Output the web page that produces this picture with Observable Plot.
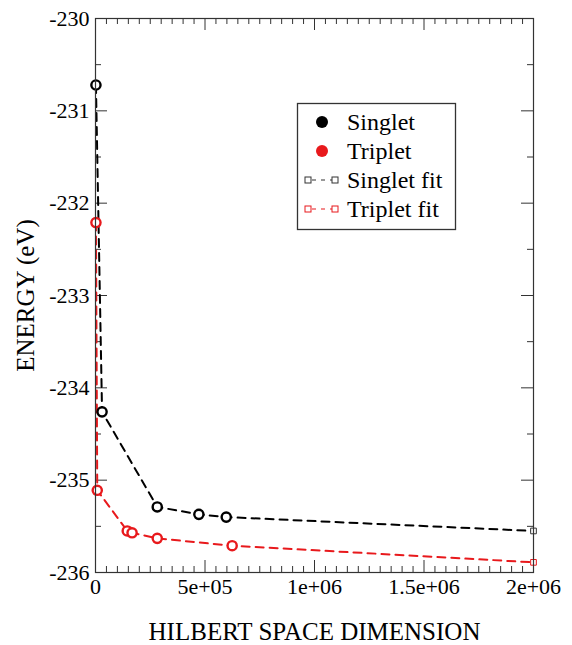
<!DOCTYPE html>
<html>
<head>
<meta charset="utf-8">
<script src="https://cdn.jsdelivr.net/npm/d3@7"></script>
<script src="https://cdn.jsdelivr.net/npm/@observablehq/plot@0.6"></script>
<style>
  html, body { margin: 0; padding: 0; background: #fff; overflow: hidden; }
  #wrap { position: relative; width: 572px; height: 645px; }
  #legend { position: absolute; left: 0; top: 0; }
  #wrap svg, #wrap svg text { font-family: "Liberation Serif", "Times New Roman", Times, serif !important; }
</style>
</head>
<body>
<div id="wrap"></div>
<script>
// ---- data ----
const singletX = [2000, 30000, 282000, 472000, 597000];
const singletE = [-230.72, -234.26, -235.29, -235.37, -235.40];
const tripletX = [2000, 8000, 145000, 167000, 282000, 624000];
const tripletE = [-232.21, -235.11, -235.55, -235.57, -235.63, -235.71];
const singletFitX = [2000, 30000, 282000, 472000, 597000, 2000000];
const singletFitE = [-230.72, -234.26, -235.29, -235.37, -235.40, -235.55];
const tripletFitX = [2000, 8000, 145000, 167000, 282000, 624000, 2000000];
const tripletFitE = [-232.21, -235.11, -235.55, -235.57, -235.63, -235.71, -235.89];
const xTicks = [0, 500000, 1000000, 1500000, 2000000];
const xTickLabels = ["0", "5e+05", "1e+06", "1.5e+06", "2e+06"];
const yTicks = [-236, -235, -234, -233, -232, -231, -230];
const yTickLabels = ["-236", "-235", "-234", "-233", "-232", "-231", "-230"];
const xMinor = d3.range(0, 2000001, 50000).filter(v => v % 500000 !== 0);
const yMinor = [-235.5, -234.5, -233.5, -232.5, -231.5, -230.5];
const legendLabels = ["Singlet", "Triplet", "Singlet fit", "Triplet fit"];

const RED = "#e8191c";
const singlet = singletX.map((x, i) => ({x, y: singletE[i]}));
const triplet = tripletX.map((x, i) => ({x, y: tripletE[i]}));
const singletFit = singletFitX.map((x, i) => ({x, y: singletFitE[i]}));
const tripletFit = tripletFitX.map((x, i) => ({x, y: tripletFitE[i]}));

const W = 572, H = 645, mt = 18, mb = 73, ml = 95, mr = 39;
const ph = H - mt - mb, pw = W - ml - mr;
const MAJ = 12, MIN = 6;
const FONT = "Liberation Serif, Times New Roman, Times, serif";

const chart = Plot.plot({
  width: W, height: H,
  marginTop: mt, marginBottom: mb, marginLeft: ml, marginRight: mr,
  style: {fontSize: "22px", color: "#000", background: "#fff"},
  x: {domain: [0, 2000000]},
  y: {domain: [-236, -230]},
  marks: [
    // inward ticks on all four sides
    Plot.ruleX(xTicks, {x: d => d, insetTop: ph - MAJ, stroke: "#333"}),
    Plot.ruleX(xTicks, {x: d => d, insetBottom: ph - MAJ, stroke: "#333"}),
    Plot.ruleX(xMinor, {x: d => d, insetTop: ph - MIN, stroke: "#333"}),
    Plot.ruleX(xMinor, {x: d => d, insetBottom: ph - MIN, stroke: "#333"}),
    Plot.ruleY(yTicks, {y: d => d, insetRight: pw - MAJ, stroke: "#333"}),
    Plot.ruleY(yTicks, {y: d => d, insetLeft: pw - MAJ, stroke: "#333"}),
    Plot.ruleY(yMinor, {y: d => d, insetRight: pw - MIN, stroke: "#333"}),
    Plot.ruleY(yMinor, {y: d => d, insetLeft: pw - MIN, stroke: "#333"}),
    Plot.axisX({ticks: xTicks, tickSize: 0, tickPadding: 6, fontSize: 22, tickFormat: d => xTickLabels[xTicks.indexOf(d)], label: null}),
    Plot.axisY({ticks: yTicks, tickSize: 0, tickPadding: 6, fontSize: 22, tickFormat: d => yTickLabels[yTicks.indexOf(d)], label: null}),
    Plot.text(["HILBERT SPACE DIMENSION"], {frameAnchor: "bottom", textAnchor: "middle", dy: 67, fontSize: 25}),
    Plot.text(["ENERGY (eV)"], {frameAnchor: "left", textAnchor: "middle", dx: -70, rotate: -90, fontSize: 25}),
    // fit lines
    Plot.line(tripletFit, {x: "x", y: "y", stroke: RED, strokeWidth: 2, strokeDasharray: "8,6"}),
    Plot.line(singletFit, {x: "x", y: "y", stroke: "#000", strokeWidth: 2, strokeDasharray: "8,6"}),
    Plot.dot(tripletFit.slice(-1), {x: "x", y: "y", symbol: "square", r: 3.2, stroke: RED, fill: "#fff", strokeWidth: 1}),
    Plot.dot(singletFit.slice(-1), {x: "x", y: "y", symbol: "square", r: 3.2, stroke: "#333", fill: "#fff", strokeWidth: 1}),
    // data points
    Plot.dot(triplet, {x: "x", y: "y", r: 4.6, stroke: RED, fill: "#fff", strokeWidth: 2.4}),
    Plot.dot(singlet, {x: "x", y: "y", r: 4.6, stroke: "#000", fill: "#fff", strokeWidth: 2.4}),
    Plot.frame({stroke: "#333", strokeWidth: 1.2})
  ]
});
chart.setAttribute("font-family", FONT);

const wrap = document.getElementById("wrap");
wrap.appendChild(chart);

// legend
const lg = d3.select(wrap).append("svg").attr("id", "legend")
  .attr("width", W).attr("height", H)
  .attr("font-family", FONT);
lg.append("rect").attr("x", 297.5).attr("y", 103.5).attr("width", 158).attr("height", 126)
  .attr("fill", "#fff").attr("stroke", "#333").attr("stroke-width", 1.3);
const rowsY = [122, 151, 180, 209];
const colors = ["#000", RED, "#333", RED];
legendLabels.forEach((t, i) => {
  const y = rowsY[i];
  if (i < 2) {
    lg.append("circle").attr("cx", 322).attr("cy", y).attr("r", 6).attr("fill", colors[i]);
  } else {
    lg.append("line").attr("x1", 308).attr("x2", 335).attr("y1", y).attr("y2", y)
      .attr("stroke", colors[i]).attr("stroke-width", 1.2).attr("stroke-dasharray", "4,5").attr("stroke-dashoffset", -4);
    [308, 335].forEach(cx => lg.append("rect").attr("x", cx - 3).attr("y", y - 3).attr("width", 6).attr("height", 6)
      .attr("fill", "#fff").attr("stroke", colors[i]).attr("stroke-width", 1));
  }
  lg.append("text").attr("x", 347).attr("y", y).attr("dy", "0.35em").attr("font-size", 24).attr("fill", "#000").text(t);
});
</script>
</body>
</html>
